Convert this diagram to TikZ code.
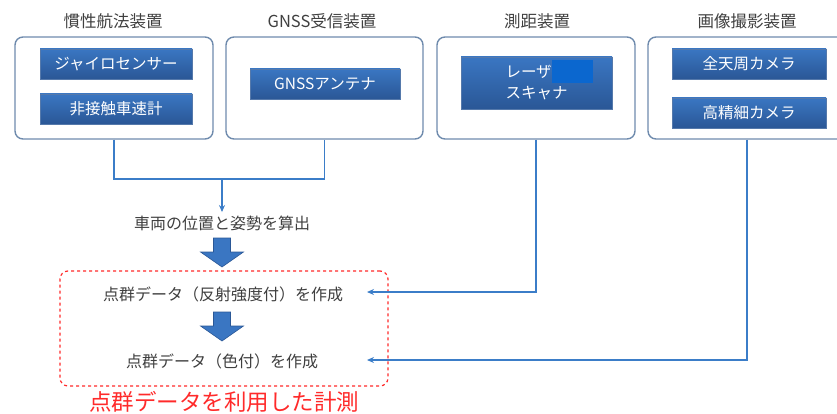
\documentclass[tikz,border=0pt]{standalone}
\usepackage{fontspec}
\setmainfont{Noto Sans CJK JP}
\usetikzlibrary{arrows.meta}

\definecolor{framegray}{HTML}{6F8BAD}
\definecolor{partblue}{HTML}{3A76C2}
\definecolor{partdark}{HTML}{2A5796}
\definecolor{linkblue}{HTML}{3B7DC8}
\definecolor{labelgray}{HTML}{3F3F3F}
\definecolor{patchblue}{HTML}{0B67CF}
\definecolor{measred}{HTML}{FF2A2A}

\tikzset{
  group/.style={draw=framegray, line width=1.4pt, rounded corners=8pt,
    minimum width=198pt, minimum height=102pt},
  title/.style={text=labelgray, font=\fontsize{16.5}{19}\selectfont},
  part/.style={top color=partblue, bottom color=partdark, draw=partdark!80,
    text=white, font=\fontsize{15.5}{21}\selectfont, inner sep=0pt,
    minimum width=152pt, minimum height=30pt},
  step label/.style={text=labelgray, font=\fontsize{16}{19}\selectfont},
  link/.style={draw=linkblue, line width=1.9pt},
  bigarrow/.pic={
    \draw[fill=partblue, draw=partdark, line width=0.6pt]
      (-8.5,0) -- (8.5,0) -- (8.5,14) -- (21.5,14) -- (0,29)
      -- (-21.5,14) -- (-8.5,14) -- cycle;
  }
}

\begin{document}
\begin{tikzpicture}[x=1pt, y=-1pt]
  \useasboundingbox (0,0) rectangle (837,414);
  \clip (0,0) rectangle (837,414);

  % device groups and their titles
  \node[title] (T1) at (113,21) {慣性航法装置};
  \node[title] (T2) at (322,21) {GNSS受信装置};
  \node[title] (T3) at (537,21) {測距装置};
  \node[title] (T4) at (747,21) {画像撮影装置};

  \node[group] (B1) at (114,88) {};
  \node[group, minimum width=197pt] (B2) at (324.5,88) {};
  \node[group] (B3) at (536,88) {};
  \node[group] (B4) at (747,88) {};

  % parts inside the groups
  \node[part] (Gyro) at (116,64) {ジャイロセンサー};
  \node[part] (Speed) at (116,109) {非接触車速計};
  \node[part, minimum width=150pt] (Ant) at (325,84) {GNSSアンテナ};
  \node[part, minimum width=151pt, minimum height=52pt, align=left] (Laser) at (536.5,83) {レーザ\\スキャナ};
  \node[fill=patchblue, inner sep=0pt, minimum width=41pt, minimum height=23pt] (Patch) at (572.5,71.5) {};
  \node[part, minimum width=154pt] (Omni) at (749,64) {全天周カメラ};
  \node[part, minimum width=154pt] (Fine) at (749,113) {高精細カメラ};

  % processing steps
  \node[step label] (Pose) at (222,223) {車両の位置と姿勢を算出};
  \node[step label] (P1) at (223,294) {点群データ（反射強度付）を作成};
  \node[step label] (P2) at (222,361) {点群データ（色付）を作成};

  \pic at (222,238) {bigarrow};
  \pic at (222,312) {bigarrow};

  \node[draw=measred, dashed, line width=1.2pt, rounded corners=8pt,
    minimum width=328pt, minimum height=115pt] (Meas) at (224,328.5) {};
  \node[text=measred, font=\fontsize{22.5}{26}\selectfont] (MeasT) at (224,402) {点群データを利用した計測};

  \coordinate (J) at (114,179);
  \coordinate (JM) at (222,179);
  \coordinate (In1) at (367,292);
  \coordinate (In2) at (367,360);

  \draw[link] (B1.south) |- (J) -| (B2.south);
  \draw[link, -{Stealth[length=7pt,width=6pt]}] (JM) -- (Pose.north);
  \draw[link, -{Stealth[length=7pt,width=6pt]}] (B3.south) |- (In1);
  \draw[link, -{Stealth[length=7pt,width=6pt]}] (B4.south) |- (In2);
\end{tikzpicture}
\end{document}
